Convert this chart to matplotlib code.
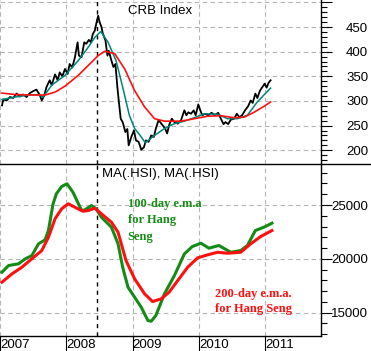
import matplotlib
matplotlib.use('Agg')
import matplotlib.pyplot as plt
from matplotlib.lines import Line2D
from matplotlib.ticker import MultipleLocator

plt.rcParams['font.family'] = ['Liberation Sans', 'DejaVu Sans']

# CRB index (daily close), x in decimal years
crb_t = [2007.03, 2007.05, 2007.10, 2007.15, 2007.20, 2007.25, 2007.30, 2007.35, 2007.40, 2007.45,
         2007.50, 2007.55, 2007.60, 2007.63, 2007.67, 2007.70, 2007.75, 2007.78, 2007.83, 2007.87,
         2007.90, 2007.94, 2007.98, 2008.02, 2008.05, 2008.09, 2008.13, 2008.17, 2008.19, 2008.23,
         2008.27, 2008.30, 2008.34, 2008.37, 2008.40, 2008.43, 2008.45, 2008.48, 2008.50, 2008.53,
         2008.55, 2008.59, 2008.62, 2008.64, 2008.68, 2008.71, 2008.74, 2008.77, 2008.79, 2008.82,
         2008.85, 2008.89, 2008.92, 2008.94, 2008.98, 2009.02, 2009.05, 2009.09, 2009.13, 2009.17,
         2009.20, 2009.24, 2009.28, 2009.32, 2009.35, 2009.39, 2009.42, 2009.45, 2009.49, 2009.52,
         2009.55, 2009.59, 2009.63, 2009.68, 2009.73, 2009.78, 2009.81, 2009.84, 2009.88, 2009.92,
         2009.95, 2009.99, 2010.02, 2010.05, 2010.09, 2010.14, 2010.19, 2010.24, 2010.29, 2010.33,
         2010.37, 2010.40, 2010.44, 2010.48, 2010.53, 2010.57, 2010.61, 2010.65, 2010.70, 2010.74,
         2010.78, 2010.81, 2010.85, 2010.88, 2010.92, 2010.95, 2010.99, 2011.02, 2011.05, 2011.08]
crb = [291, 303, 301, 308, 306, 315, 309, 313, 308, 316,
       320, 323, 312, 301, 312, 328, 342, 332, 354, 342,
       358, 350, 365, 355, 375, 368, 389, 419, 392, 389,
       419, 416, 424, 419, 436, 443, 456, 473, 461, 450,
       437, 423, 392, 402, 382, 369, 375, 328, 301, 264,
       257, 237, 243, 210, 227, 240, 220, 217, 201, 206,
       220, 217, 230, 227, 244, 261, 256, 251, 244, 234,
       251, 264, 257, 254, 261, 281, 271, 277, 274, 281,
       271, 293, 281, 271, 274, 271, 276, 271, 276, 264,
       253, 257, 253, 262, 264, 274, 267, 271, 282, 289,
       301, 296, 315, 306, 321, 327, 335, 327, 337, 342]

# short moving average (teal)
ma_s_t = [2007.03, 2007.23, 2007.43, 2007.58, 2007.65, 2007.78, 2007.98, 2008.18, 2008.33, 2008.43,
          2008.52, 2008.63, 2008.75, 2008.85, 2008.95, 2009.03, 2009.13, 2009.19, 2009.33, 2009.48,
          2009.63, 2009.78, 2009.93, 2010.08, 2010.28, 2010.43, 2010.58, 2010.73, 2010.88, 2011.00, 2011.08]
ma_s = [303, 308, 312, 313, 308, 332, 352, 382, 409, 429,
        441, 419, 382, 328, 271, 244, 227, 215, 230, 244,
        254, 259, 266, 274, 273, 264, 264, 271, 298, 315, 326]

# long moving average (red)
ma_l_t = [2007.03, 2007.23, 2007.53, 2007.68, 2007.83, 2007.98, 2008.18, 2008.33, 2008.48, 2008.58,
          2008.73, 2008.88, 2009.03, 2009.18, 2009.33, 2009.48, 2009.73, 2009.93, 2010.13, 2010.33,
          2010.53, 2010.68, 2010.83, 2010.98, 2011.08]
ma_l = [316, 313, 312, 312, 318, 330, 352, 372, 392, 401,
        396, 365, 321, 288, 264, 259, 259, 264, 269, 270,
        266, 267, 277, 289, 298]

# Hang Seng 100-day e.m.a.
hs100_t = [2007.03, 2007.13, 2007.28, 2007.38, 2007.48, 2007.58, 2007.68, 2007.73, 2007.80, 2007.85,
           2007.93, 2008.01, 2008.10, 2008.23, 2008.28, 2008.38, 2008.45, 2008.53, 2008.68, 2008.78,
           2008.85, 2008.93, 2009.03, 2009.13, 2009.23, 2009.28, 2009.35, 2009.48, 2009.63, 2009.78,
           2009.90, 2010.03, 2010.15, 2010.30, 2010.48, 2010.63, 2010.73, 2010.85, 2010.98, 2011.10]
hs100 = [18760, 19380, 19535, 20000, 20300, 21390, 21770, 22630, 25110, 26040,
         26720, 26970, 26190, 24490, 24550, 24950, 24640, 23860, 22940, 21390,
         19220, 17360, 16430, 15500, 14270, 14200, 14730, 16750, 18450, 20460,
         21140, 21450, 20990, 21240, 20610, 20770, 21240, 22630, 22940, 23310]

# Hang Seng 200-day e.m.a.
hs200_t = [2007.03, 2007.18, 2007.33, 2007.48, 2007.63, 2007.73, 2007.83, 2007.93, 2008.03, 2008.13,
           2008.25, 2008.33, 2008.43, 2008.53, 2008.68, 2008.78, 2008.90, 2009.03, 2009.18, 2009.30,
           2009.43, 2009.55, 2009.68, 2009.83, 2009.98, 2010.13, 2010.28, 2010.43, 2010.63, 2010.78,
           2010.93, 2011.10]
hs200 = [17830, 18600, 19220, 20000, 20770, 22000, 23720, 24650, 25110, 24790,
         24420, 24490, 24700, 24180, 23400, 22470, 19840, 18140, 16750, 16030,
         16280, 16900, 17980, 19220, 20090, 20370, 20610, 20520, 20610, 21390,
         22070, 22630]

years = [2007, 2008, 2009, 2010, 2011]
marker_date = 2008.46

W, H = 371, 351
fig = plt.figure(figsize=(W / 100, H / 100), dpi=100)
ax1 = fig.add_axes([0, 187 / H, 321 / W, 164 / H])
ax2 = fig.add_axes([0, 15 / H, 321 / W, 172 / H], sharex=ax1)

grid_kw = dict(color='#b4b4b4', linestyle=(0, (4, 3)), linewidth=0.8)

for ax in (ax1, ax2):
    ax.set_xlim(2007.025, 2011.84)
    for s in ('left', 'top'):
        ax.spines[s].set_visible(False)
    ax.spines['right'].set_linewidth(1.0)
    ax.yaxis.tick_right()
    ax.grid(True, which='major', **grid_kw)
    ax.axvline(marker_date, color='black', linestyle=(0, (3, 3)), linewidth=1.0)
    ax.tick_params(axis='y', which='major', length=8, width=0.8, labelsize=9.5, pad=26)
    ax.tick_params(axis='y', which='minor', length=4, width=0.8)

# top panel: CRB
ax1.plot(crb_t, crb, color='black', linewidth=1.3)
ax1.plot(ma_s_t, ma_s, color='#00857a', linewidth=1.1)
ax1.plot(ma_l_t, ma_l, color='#ff1010', linewidth=1.2)
ax1.set_ylim(172, 505)
ax1.set_yticks([200, 250, 300, 350, 400, 450, 500])
ax1.set_yticklabels(['200', '250', '300', '350', '400', '450', ''])
ax1.yaxis.set_minor_locator(MultipleLocator(10))
ax1.spines['bottom'].set_visible(False)
ax1.tick_params(axis='x', which='both', bottom=False, labelbottom=False)
for lab in ax1.get_yticklabels():
    lab.set_horizontalalignment('right')

# bottom panel: Hang Seng moving averages
ax2.plot(hs100_t, hs100, color='#168a16', linewidth=2.2)
ax2.plot(hs200_t, hs200, color='#ff1010', linewidth=2.2)
ax2.set_ylim(12830, 28810)
ax2.set_yticks([15000, 20000, 25000])
ax2.yaxis.set_minor_locator(MultipleLocator(1000))
ax2.spines['bottom'].set_linewidth(1.0)
ax2.set_xticks(years)
ax2.set_xticklabels([str(y) for y in years])
ax2.tick_params(axis='x', which='major', length=11, width=0.8, pad=-8.5, labelsize=9.5)
for lab in ax2.get_xticklabels():
    lab.set_horizontalalignment('left')
for lab in ax2.get_yticklabels():
    lab.set_horizontalalignment('right')

# separator line between the panels, running to the right edge
fig.add_artist(Line2D([0, 1], [187 / H, 187 / H], transform=fig.transFigure,
                      color='black', linewidth=1.0))

fig.text(160 / W, 1 - 11 / H, 'CRB Index', ha='center', va='center', fontsize=9.5)
fig.text(160 / W, 1 - 173.5 / H, 'MA(.HSI), MA(.HSI)', ha='center', va='center', fontsize=9.5)
fig.text(127.5 / W, 1 - 198 / H, '100-day e.m.a\nfor Hang\nSeng', ha='left', va='top',
         family='Liberation Serif', fontweight='bold', fontsize=9, color='#168a16',
         linespacing=1.5)
fig.text(215 / W, 1 - 288 / H, '200-day e.m.a.\nfor Hang Seng', ha='left', va='top',
         family='Liberation Serif', fontweight='bold', fontsize=9, color='#ff1010',
         linespacing=1.3)

fig.savefig('out.png', dpi=100)
